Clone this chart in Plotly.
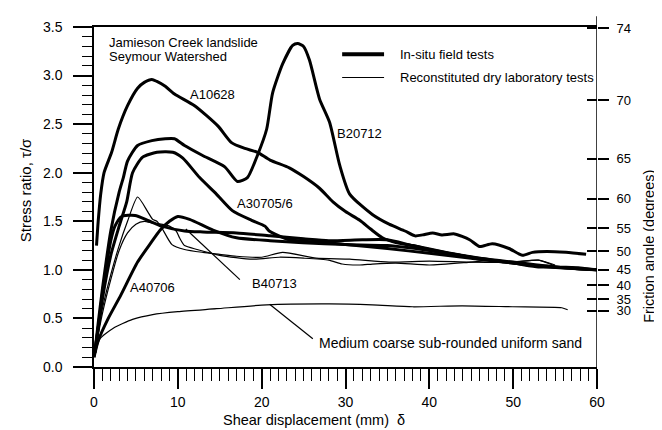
import numpy as np
import plotly.graph_objects as go

# ---------------- data ----------------
a10628_x = [0.3, 0.5, 0.8, 1.2, 2.1, 2.9, 4.0, 5.2, 6.0, 6.9, 7.5, 8.5, 9.6, 12.0, 14.8, 16.4, 18.0, 19.5,
            21.0, 23.3, 25.0, 26.9, 28.5, 30.0, 31.7, 33.0, 34.4, 36.0, 38.0, 40.0, 43.0, 46.0, 49.0, 52.0,
            55.0, 58.0, 60.0]
a10628_y = [1.25, 1.50, 1.78, 2.00, 2.21, 2.45, 2.69, 2.87, 2.93, 2.96, 2.94, 2.89, 2.81, 2.69, 2.48, 2.31,
            2.25, 2.21, 2.13, 2.05, 1.96, 1.84, 1.70, 1.60, 1.51, 1.42, 1.33, 1.28, 1.25, 1.21, 1.16, 1.11,
            1.08, 1.05, 1.03, 1.02, 1.00]

b20712_x = [0.1, 0.5, 1.0, 2.0, 3.0, 3.5, 4.0, 5.2, 6.9, 8.5, 9.6, 10.8, 12.9, 15.6, 17.1, 18.3, 19.5,
            20.6, 21.3, 22.5, 23.7, 24.3, 25.0, 25.7, 26.9, 28.1, 29.3, 30.5, 33.2, 35.2, 37.1, 38.3,
            39.2, 40.4, 41.5, 43.0, 44.8, 46.0, 47.5, 49.5, 51.1, 52.3, 54.0, 56.3, 58.7]
b20712_y = [0.15, 0.45, 0.80, 1.40, 1.80, 1.95, 2.12, 2.28, 2.33, 2.35, 2.35, 2.28, 2.18, 2.06, 1.91, 1.95,
            2.18, 2.45, 2.82, 3.12, 3.31, 3.33, 3.30, 3.16, 2.76, 2.52, 2.08, 1.78, 1.57, 1.47, 1.40, 1.35,
            1.36, 1.38, 1.36, 1.37, 1.31, 1.24, 1.27, 1.22, 1.15, 1.18, 1.19, 1.18, 1.16]

a30705_x = [0.1, 0.5, 1.0, 2.0, 3.0, 3.9, 4.6, 5.8, 7.5, 9.4, 10.6, 12.6, 14.6, 16.5, 18.8, 20.4, 20.9,
            23.3, 28.1, 30.0, 35.0, 40.0, 45.0, 50.0, 53.0, 55.0, 58.0, 60.0]
a30705_y = [0.15, 0.40, 0.70, 1.15, 1.45, 1.70, 2.00, 2.16, 2.21, 2.21, 2.15, 1.95, 1.78, 1.61, 1.51,
            1.45, 1.40, 1.31, 1.28, 1.26, 1.22, 1.17, 1.12, 1.07, 1.03, 1.03, 1.01, 1.00]

a40706_x = [0.0, 0.5, 1.7, 3.2, 5.2, 6.8, 7.9, 9.0, 10.0, 11.4, 14.2, 17.0, 21.0, 24.9, 30.0, 35.0, 40.0,
            45.0, 50.0, 55.0, 60.0]
a40706_y = [0.10, 0.27, 0.50, 0.74, 1.08, 1.28, 1.41, 1.50, 1.55, 1.52, 1.41, 1.33, 1.30, 1.28, 1.26,
            1.25, 1.20, 1.13, 1.08, 1.03, 1.00]

thick5_x = [0.0, 0.5, 1.0, 1.5, 2.0, 2.5, 3.3, 4.9, 6.4, 8.1, 10.8, 13.0, 17.0, 21.0, 25.0, 28.0, 32.0,
            35.0, 38.0, 42.0, 46.0, 50.0, 53.0, 56.0, 60.0]
thick5_y = [0.10, 0.40, 0.75, 1.05, 1.30, 1.45, 1.55, 1.56, 1.51, 1.45, 1.40, 1.39, 1.38, 1.35, 1.32,
            1.30, 1.31, 1.31, 1.25, 1.18, 1.12, 1.07, 1.04, 1.02, 1.00]

lab1_x = [0.1, 1.0, 2.0, 3.0, 4.0, 5.2, 6.4, 7.0, 7.5, 8.1, 9.3, 10.8, 13.0, 15.0, 17.0, 20.0, 22.5,
          26.5, 30.5, 35.2, 40.0, 45.0, 50.0, 53.0, 55.0]
lab1_y = [0.15, 0.60, 0.95, 1.25, 1.50, 1.75, 1.60, 1.52, 1.50, 1.43, 1.26, 1.21, 1.18, 1.16, 1.14,
          1.13, 1.18, 1.12, 1.11, 1.08, 1.09, 1.08, 1.08, 1.10, 1.05]

lab2_x = [0.1, 1.0, 2.0, 3.0, 4.0, 5.0, 6.0, 7.0, 8.0, 9.0, 9.8, 10.2, 10.8, 12.3, 15.0, 18.9, 22.1,
          25.0, 28.0, 29.6, 31.7, 33.2, 36.0, 40.0, 45.0, 48.0, 50.0, 53.0, 55.0]
lab2_y = [0.15, 0.55, 0.90, 1.20, 1.38, 1.47, 1.50, 1.48, 1.47, 1.45, 1.40, 1.33, 1.25, 1.21, 1.15,
          1.11, 1.13, 1.12, 1.10, 1.06, 1.05, 1.06, 1.07, 1.05, 1.08, 1.10, 1.08, 1.10, 1.04]

sand_x = [0.1, 0.7, 2.3, 4.6, 7.0, 10.0, 14.6, 20.6, 28.1, 33.2, 38.0, 43.9, 49.9, 55.8, 56.5]
sand_y = [0.12, 0.29, 0.40, 0.49, 0.54, 0.57, 0.60, 0.64, 0.65, 0.64, 0.62, 0.63, 0.62, 0.61, 0.59]

x_ticks = [0, 10, 20, 30, 40, 50, 60]
y_ticks = [0.0, 0.5, 1.0, 1.5, 2.0, 2.5, 3.0, 3.5]
angle_ticks = [74, 70, 65, 60, 55, 50, 45, 40, 35, 30]

FONT = "Liberation Sans, Arial, sans-serif"
THICK = 3.0
THIN = 1.2

fig = go.Figure()
for xs, ys, w in [(a10628_x, a10628_y, THICK), (b20712_x, b20712_y, THICK), (a30705_x, a30705_y, THICK),
                  (a40706_x, a40706_y, THICK), (thick5_x, thick5_y, THICK), (lab1_x, lab1_y, THIN),
                  (lab2_x, lab2_y, THIN), (sand_x, sand_y, THIN)]:
    fig.add_trace(go.Scatter(x=xs, y=ys, mode="lines",
                             line=dict(color="black", width=w, shape="spline", smoothing=0.6),
                             showlegend=False, hoverinfo="skip"))

fig.add_trace(go.Scatter(x=[None], y=[None], yaxis="y2", showlegend=False, hoverinfo="skip"))
fig.add_trace(go.Scatter(x=[None], y=[None], yaxis="y3", showlegend=False, hoverinfo="skip"))

ang_vals = [float(np.tan(np.radians(a))) for a in angle_ticks]

axis_common = dict(showgrid=False, zeroline=False, linecolor="black", linewidth=1.5,
                   tickcolor="black", tickwidth=1.5)
tick_font = dict(family=FONT, size=14, color="black")

# page body has an 8px default margin; size the figure so the plot area lands where the reference has it
fig.update_layout(
    width=654, height=422,
    margin=dict(l=86, r=65, t=11, b=63),
    paper_bgcolor="white", plot_bgcolor="white",
    font=dict(family=FONT, color="black"),
    xaxis=dict(range=[0, 60], tickvals=x_ticks, ticks="outside", ticklen=20, showline=True,
               mirror=True, ticklabelstandoff=1, tickfont=tick_font,
               minor=dict(dtick=1, ticks="outside", ticklen=12, tickcolor="black", tickwidth=1.2),
               **axis_common),
    yaxis=dict(range=[0, 3.5], tickvals=y_ticks, tickformat=".1f", ticks="outside", ticklen=19,
               showline=True, ticklabelstandoff=8, tickfont=tick_font,
               minor=dict(dtick=0.1, ticks="outside", ticklen=10, tickcolor="black", tickwidth=1.2),
               **axis_common),
    yaxis2=dict(range=[0, 3.5], overlaying="y", side="right", anchor="x", tickvals=ang_vals,
                ticktext=[str(a) for a in angle_ticks], ticks="outside", ticklen=11, showline=False,
                ticklabelstandoff=5, tickfont=dict(family=FONT, size=13, color="black"),
                **axis_common),
    yaxis3=dict(range=[0, 3.5], overlaying="y", side="right", anchor="x", tickvals=ang_vals,
                ticks="inside", ticklen=10, showticklabels=False, showline=False, **axis_common),
)

# plot area in page pixels (reference): x 94..597, y 19..367
def px_x(p):
    return (p - 94) / 503.0

def px_y(p):
    return (367 - p) / 348.0

# right axis line extending past the frame
fig.add_shape(type="line", xref="x", yref="paper", x0=60, x1=60, y0=px_y(385), y1=px_y(8),
              line=dict(color="black", width=1.5))

# legend (drawn)
fig.add_shape(type="line", x0=29.6, x1=34.6, y0=3.22, y1=3.22, line=dict(color="black", width=4))
fig.add_shape(type="line", x0=29.6, x1=34.6, y0=2.98, y1=2.98, line=dict(color="black", width=1.2))

# leader lines
fig.add_shape(type="line", x0=10.95, y0=1.42, x1=17.4, y1=0.90, line=dict(color="black", width=1.2))
fig.add_shape(type="line", x0=20.95, y0=0.645, x1=26.1, y1=0.29, line=dict(color="black", width=1.2))

def label(x, y, text, size=13):
    fig.add_annotation(x=x, y=y, text=text, showarrow=False, xanchor="left", yanchor="middle",
                       font=dict(family=FONT, size=size, color="black"))

label(1.55, 3.34, "Jamieson Creek landslide")
label(1.55, 3.20, "Seymour Watershed")
label(36.3, 3.22, "In-situ field tests")
label(36.3, 2.98, "Reconstituted dry laboratory tests")
label(11.2, 2.81, "A10628")
label(28.7, 2.40, "B20712")
label(16.8, 1.68, "A30705/6")
label(4.05, 0.82, "A40706")
label(18.6, 0.855, "B40713")
label(26.6, 0.25, "Medium coarse sub-rounded uniform sand", size=14)

# axis titles
fig.add_annotation(xref="paper", yref="paper", x=px_x(314), y=px_y(421),
                   text="Shear displacement (mm)  δ", showarrow=False, xanchor="center",
                   yanchor="middle", font=dict(family=FONT, size=14.5, color="black"))
fig.add_annotation(xref="paper", yref="paper", x=px_x(25), y=px_y(186),
                   text="Stress ratio, τ/σ", showarrow=False, textangle=-90, xanchor="center",
                   yanchor="middle", font=dict(family=FONT, size=15, color="black"))
fig.add_annotation(xref="paper", yref="paper", x=px_x(649), y=px_y(244),
                   text="Friction angle (degrees)", showarrow=False, textangle=-90, xanchor="center",
                   yanchor="middle", font=dict(family=FONT, size=14.5, color="black"))

fig.write_html("out.html")
